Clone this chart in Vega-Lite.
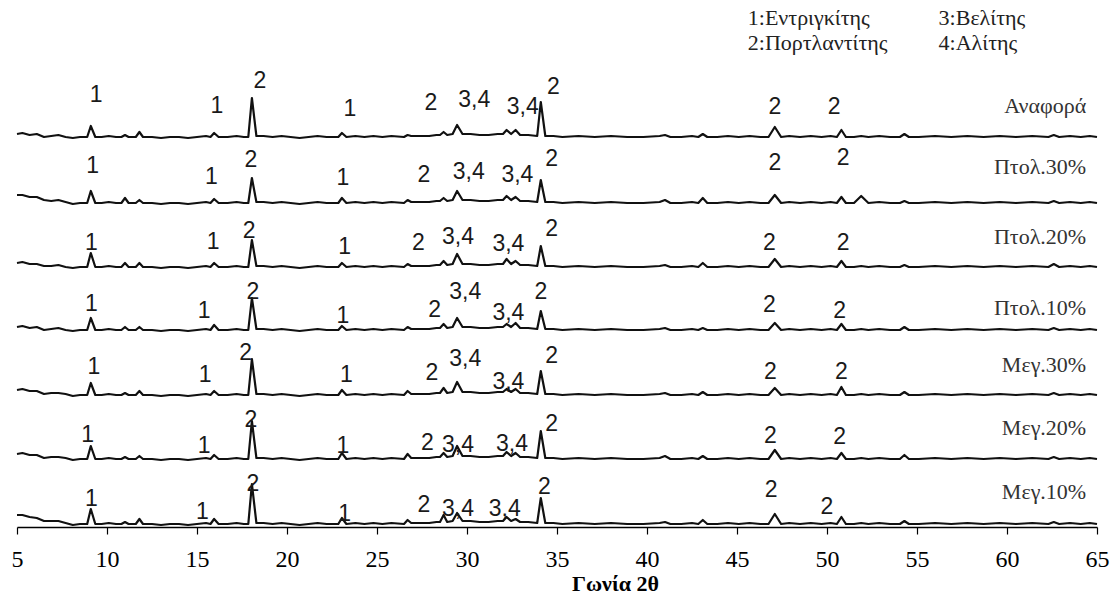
{
"$schema": "https://vega.github.io/schema/vega-lite/v6.json",
"width": 1080,
"height": 527,
"autosize": {"type": "none"},
"padding": {"left": 17, "top": 0, "right": 15, "bottom": 68},
"background": "white",
"config": {"view": {"stroke": null}},
"datasets": {
"tr": [
{"s":1,"x":5,"y":393},{"s":1,"x":5.3,"y":394},{"s":1,"x":5.7,"y":392},{"s":1,"x":6.1,"y":393},{"s":1,"x":6.5,"y":390},{"s":1,"x":6.9,"y":391},{"s":1,"x":7.3,"y":392},{"s":1,"x":7.7,"y":390},{"s":1,"x":8.1,"y":389},{"s":1,"x":8.5,"y":390},
{"s":1,"x":8.9,"y":390},{"s":1,"x":9.1,"y":401},{"s":1,"x":9.35,"y":390},{"s":1,"x":9.7,"y":390},{"s":1,"x":10.1,"y":391},{"s":1,"x":10.5,"y":390},{"s":1,"x":10.8,"y":390},{"s":1,"x":11,"y":392},{"s":1,"x":11.2,"y":390},{"s":1,"x":11.6,"y":390},
{"s":1,"x":11.8,"y":395},{"s":1,"x":12,"y":390},{"s":1,"x":12.5,"y":390},{"s":1,"x":13,"y":389},{"s":1,"x":13.5,"y":390},{"s":1,"x":14,"y":390},{"s":1,"x":14.5,"y":389},{"s":1,"x":15,"y":390},{"s":1,"x":15.5,"y":391},{"s":1,"x":15.75,"y":390},
{"s":1,"x":15.95,"y":394},{"s":1,"x":16.2,"y":390},{"s":1,"x":16.7,"y":390},{"s":1,"x":17.2,"y":391},{"s":1,"x":17.6,"y":390},{"s":1,"x":17.85,"y":390},{"s":1,"x":18.05,"y":429},{"s":1,"x":18.3,"y":391},{"s":1,"x":18.7,"y":391},{"s":1,"x":19.2,"y":390},
{"s":1,"x":19.7,"y":391},{"s":1,"x":20.2,"y":390},{"s":1,"x":20.7,"y":389},{"s":1,"x":21.2,"y":390},{"s":1,"x":21.7,"y":391},{"s":1,"x":22.2,"y":390},{"s":1,"x":22.85,"y":390},{"s":1,"x":23.05,"y":394},{"s":1,"x":23.3,"y":390},{"s":1,"x":23.8,"y":391},
{"s":1,"x":24.3,"y":390},{"s":1,"x":24.8,"y":391},{"s":1,"x":25.3,"y":390},{"s":1,"x":25.8,"y":391},{"s":1,"x":26.5,"y":390},{"s":1,"x":26.7,"y":392},{"s":1,"x":26.9,"y":391},{"s":1,"x":27.4,"y":391},{"s":1,"x":27.9,"y":391},{"s":1,"x":28.3,"y":392},
{"s":1,"x":28.5,"y":392},{"s":1,"x":28.7,"y":395},{"s":1,"x":28.9,"y":392},{"s":1,"x":29.2,"y":393},{"s":1,"x":29.45,"y":402},{"s":1,"x":29.75,"y":393},{"s":1,"x":30.2,"y":393},{"s":1,"x":30.7,"y":392},{"s":1,"x":31.2,"y":392},{"s":1,"x":31.7,"y":393},
{"s":1,"x":32,"y":393},{"s":1,"x":32.2,"y":397},{"s":1,"x":32.45,"y":393},{"s":1,"x":32.7,"y":397},{"s":1,"x":32.95,"y":392},{"s":1,"x":33.4,"y":392},{"s":1,"x":33.9,"y":391},{"s":1,"x":34.1,"y":425},{"s":1,"x":34.35,"y":391},{"s":1,"x":34.8,"y":391},
{"s":1,"x":35.3,"y":390},{"s":1,"x":36.2,"y":391},{"s":1,"x":37.1,"y":390},{"s":1,"x":38,"y":391},{"s":1,"x":38.9,"y":390},{"s":1,"x":39.8,"y":390},{"s":1,"x":40.7,"y":391},{"s":1,"x":41,"y":392},{"s":1,"x":41.3,"y":390},{"s":1,"x":41.9,"y":390},
{"s":1,"x":42.5,"y":391},{"s":1,"x":42.85,"y":390},{"s":1,"x":43.1,"y":393},{"s":1,"x":43.35,"y":390},{"s":1,"x":43.9,"y":390},{"s":1,"x":44.5,"y":391},{"s":1,"x":45.1,"y":390},{"s":1,"x":45.7,"y":391},{"s":1,"x":46.3,"y":390},{"s":1,"x":46.75,"y":390},
{"s":1,"x":47.1,"y":400},{"s":1,"x":47.45,"y":390},{"s":1,"x":47.9,"y":391},{"s":1,"x":48.5,"y":390},{"s":1,"x":49.1,"y":391},{"s":1,"x":49.7,"y":390},{"s":1,"x":50.2,"y":391},{"s":1,"x":50.55,"y":390},{"s":1,"x":50.8,"y":397},{"s":1,"x":51.05,"y":390},
{"s":1,"x":51.5,"y":390},{"s":1,"x":51.9,"y":391},{"s":1,"x":52.3,"y":390},{"s":1,"x":52.9,"y":391},{"s":1,"x":53.5,"y":390},{"s":1,"x":54.05,"y":390},{"s":1,"x":54.3,"y":393},{"s":1,"x":54.55,"y":390},{"s":1,"x":55.1,"y":390},{"s":1,"x":56,"y":391},
{"s":1,"x":56.9,"y":390},{"s":1,"x":57.8,"y":391},{"s":1,"x":58.7,"y":390},{"s":1,"x":59.6,"y":391},{"s":1,"x":60.5,"y":390},{"s":1,"x":61.4,"y":391},{"s":1,"x":62.3,"y":390},{"s":1,"x":62.6,"y":392},{"s":1,"x":62.9,"y":390},{"s":1,"x":63.5,"y":391},{"s":1,"x":64.1,"y":390},{"s":1,"x":64.6,"y":391},{"s":1,"x":65,"y":390},

{"s":2,"x":5,"y":332},{"s":2,"x":5.3,"y":332},{"s":2,"x":5.7,"y":330},{"s":2,"x":6.1,"y":330},{"s":2,"x":6.5,"y":327},{"s":2,"x":6.9,"y":326},{"s":2,"x":7.3,"y":327},{"s":2,"x":7.7,"y":325},{"s":2,"x":8.1,"y":323},{"s":2,"x":8.5,"y":324},
{"s":2,"x":8.9,"y":324},{"s":2,"x":9.1,"y":336},{"s":2,"x":9.35,"y":324},{"s":2,"x":9.7,"y":324},{"s":2,"x":10.1,"y":325},{"s":2,"x":10.5,"y":324},{"s":2,"x":10.8,"y":324},{"s":2,"x":11,"y":329},{"s":2,"x":11.2,"y":324},{"s":2,"x":11.6,"y":324},
{"s":2,"x":11.8,"y":327},{"s":2,"x":12,"y":324},{"s":2,"x":12.5,"y":324},{"s":2,"x":13,"y":323},{"s":2,"x":13.5,"y":324},{"s":2,"x":14,"y":324},{"s":2,"x":14.5,"y":323},{"s":2,"x":15,"y":324},{"s":2,"x":15.5,"y":325},{"s":2,"x":15.75,"y":324},
{"s":2,"x":15.95,"y":328},{"s":2,"x":16.2,"y":324},{"s":2,"x":16.7,"y":324},{"s":2,"x":17.2,"y":325},{"s":2,"x":17.6,"y":324},{"s":2,"x":17.85,"y":324},{"s":2,"x":18.05,"y":349},{"s":2,"x":18.3,"y":325},{"s":2,"x":18.7,"y":325},{"s":2,"x":19.2,"y":324},
{"s":2,"x":19.7,"y":325},{"s":2,"x":20.2,"y":324},{"s":2,"x":20.7,"y":323},{"s":2,"x":21.2,"y":324},{"s":2,"x":21.7,"y":325},{"s":2,"x":22.2,"y":324},{"s":2,"x":22.85,"y":324},{"s":2,"x":23.05,"y":329},{"s":2,"x":23.3,"y":324},{"s":2,"x":23.8,"y":325},
{"s":2,"x":24.3,"y":324},{"s":2,"x":24.8,"y":325},{"s":2,"x":25.3,"y":324},{"s":2,"x":25.8,"y":325},{"s":2,"x":26.5,"y":324},{"s":2,"x":26.7,"y":327},{"s":2,"x":26.9,"y":325},{"s":2,"x":27.4,"y":325},{"s":2,"x":27.9,"y":325},{"s":2,"x":28.3,"y":326},
{"s":2,"x":28.5,"y":326},{"s":2,"x":28.7,"y":329},{"s":2,"x":28.9,"y":326},{"s":2,"x":29.2,"y":327},{"s":2,"x":29.45,"y":336},{"s":2,"x":29.75,"y":327},{"s":2,"x":30.2,"y":327},{"s":2,"x":30.7,"y":326},{"s":2,"x":31.2,"y":326},{"s":2,"x":31.7,"y":327},
{"s":2,"x":32,"y":327},{"s":2,"x":32.2,"y":331},{"s":2,"x":32.45,"y":327},{"s":2,"x":32.7,"y":330},{"s":2,"x":32.95,"y":326},{"s":2,"x":33.4,"y":326},{"s":2,"x":33.9,"y":325},{"s":2,"x":34.1,"y":347},{"s":2,"x":34.35,"y":325},{"s":2,"x":34.8,"y":325},
{"s":2,"x":35.3,"y":324},{"s":2,"x":36.2,"y":325},{"s":2,"x":37.1,"y":324},{"s":2,"x":38,"y":325},{"s":2,"x":38.9,"y":324},{"s":2,"x":39.8,"y":324},{"s":2,"x":40.7,"y":325},{"s":2,"x":41,"y":327},{"s":2,"x":41.3,"y":324},{"s":2,"x":41.9,"y":324},
{"s":2,"x":42.5,"y":325},{"s":2,"x":42.85,"y":324},{"s":2,"x":43.1,"y":329},{"s":2,"x":43.35,"y":324},{"s":2,"x":43.9,"y":324},{"s":2,"x":44.5,"y":325},{"s":2,"x":45.1,"y":324},{"s":2,"x":45.7,"y":325},{"s":2,"x":46.3,"y":324},{"s":2,"x":46.75,"y":324},
{"s":2,"x":47.1,"y":332},{"s":2,"x":47.45,"y":324},{"s":2,"x":47.9,"y":325},{"s":2,"x":48.5,"y":324},{"s":2,"x":49.1,"y":325},{"s":2,"x":49.7,"y":324},{"s":2,"x":50.2,"y":325},{"s":2,"x":50.55,"y":324},{"s":2,"x":50.8,"y":330},{"s":2,"x":51.05,"y":324},
{"s":2,"x":51.5,"y":324},{"s":2,"x":51.9,"y":331},{"s":2,"x":52.3,"y":324},{"s":2,"x":52.9,"y":325},{"s":2,"x":53.5,"y":324},{"s":2,"x":54.05,"y":324},{"s":2,"x":54.3,"y":326},{"s":2,"x":54.55,"y":324},{"s":2,"x":55.1,"y":324},{"s":2,"x":56,"y":325},
{"s":2,"x":56.9,"y":324},{"s":2,"x":57.8,"y":325},{"s":2,"x":58.7,"y":324},{"s":2,"x":59.6,"y":325},{"s":2,"x":60.5,"y":324},{"s":2,"x":61.4,"y":325},{"s":2,"x":62.3,"y":324},{"s":2,"x":62.6,"y":326},{"s":2,"x":62.9,"y":324},{"s":2,"x":63.5,"y":325},{"s":2,"x":64.1,"y":324},{"s":2,"x":64.6,"y":325},{"s":2,"x":65,"y":324},

{"s":3,"x":5,"y":264},{"s":3,"x":5.3,"y":265},{"s":3,"x":5.7,"y":263},{"s":3,"x":6.1,"y":263},{"s":3,"x":6.5,"y":261},{"s":3,"x":6.9,"y":261},{"s":3,"x":7.3,"y":262},{"s":3,"x":7.7,"y":260},{"s":3,"x":8.1,"y":259},{"s":3,"x":8.5,"y":260},
{"s":3,"x":8.9,"y":260},{"s":3,"x":9.1,"y":274},{"s":3,"x":9.35,"y":260},{"s":3,"x":9.7,"y":260},{"s":3,"x":10.1,"y":261},{"s":3,"x":10.5,"y":260},{"s":3,"x":10.8,"y":260},{"s":3,"x":11,"y":264},{"s":3,"x":11.2,"y":260},{"s":3,"x":11.6,"y":260},
{"s":3,"x":11.8,"y":264},{"s":3,"x":12,"y":260},{"s":3,"x":12.5,"y":260},{"s":3,"x":13,"y":259},{"s":3,"x":13.5,"y":260},{"s":3,"x":14,"y":260},{"s":3,"x":14.5,"y":259},{"s":3,"x":15,"y":260},{"s":3,"x":15.5,"y":261},{"s":3,"x":15.75,"y":260},
{"s":3,"x":15.95,"y":264},{"s":3,"x":16.2,"y":260},{"s":3,"x":16.7,"y":260},{"s":3,"x":17.2,"y":261},{"s":3,"x":17.6,"y":260},{"s":3,"x":17.85,"y":260},{"s":3,"x":18.05,"y":287},{"s":3,"x":18.3,"y":261},{"s":3,"x":18.7,"y":261},{"s":3,"x":19.2,"y":260},
{"s":3,"x":19.7,"y":261},{"s":3,"x":20.2,"y":260},{"s":3,"x":20.7,"y":259},{"s":3,"x":21.2,"y":260},{"s":3,"x":21.7,"y":261},{"s":3,"x":22.2,"y":260},{"s":3,"x":22.85,"y":260},{"s":3,"x":23.05,"y":264},{"s":3,"x":23.3,"y":260},{"s":3,"x":23.8,"y":261},
{"s":3,"x":24.3,"y":260},{"s":3,"x":24.8,"y":261},{"s":3,"x":25.3,"y":260},{"s":3,"x":25.8,"y":261},{"s":3,"x":26.5,"y":260},{"s":3,"x":26.7,"y":263},{"s":3,"x":26.9,"y":261},{"s":3,"x":27.4,"y":261},{"s":3,"x":27.9,"y":261},{"s":3,"x":28.3,"y":262},
{"s":3,"x":28.5,"y":262},{"s":3,"x":28.7,"y":266},{"s":3,"x":28.9,"y":262},{"s":3,"x":29.2,"y":263},{"s":3,"x":29.45,"y":273},{"s":3,"x":29.75,"y":263},{"s":3,"x":30.2,"y":263},{"s":3,"x":30.7,"y":262},{"s":3,"x":31.2,"y":262},{"s":3,"x":31.7,"y":263},
{"s":3,"x":32,"y":263},{"s":3,"x":32.2,"y":268},{"s":3,"x":32.45,"y":263},{"s":3,"x":32.7,"y":266},{"s":3,"x":32.95,"y":262},{"s":3,"x":33.4,"y":262},{"s":3,"x":33.9,"y":261},{"s":3,"x":34.1,"y":281},{"s":3,"x":34.35,"y":261},{"s":3,"x":34.8,"y":261},
{"s":3,"x":35.3,"y":260},{"s":3,"x":36.2,"y":261},{"s":3,"x":37.1,"y":260},{"s":3,"x":38,"y":261},{"s":3,"x":38.9,"y":260},{"s":3,"x":39.8,"y":260},{"s":3,"x":40.7,"y":261},{"s":3,"x":41,"y":262},{"s":3,"x":41.3,"y":260},{"s":3,"x":41.9,"y":260},
{"s":3,"x":42.5,"y":261},{"s":3,"x":42.85,"y":260},{"s":3,"x":43.1,"y":264},{"s":3,"x":43.35,"y":260},{"s":3,"x":43.9,"y":260},{"s":3,"x":44.5,"y":261},{"s":3,"x":45.1,"y":260},{"s":3,"x":45.7,"y":261},{"s":3,"x":46.3,"y":260},{"s":3,"x":46.75,"y":260},
{"s":3,"x":47.1,"y":268},{"s":3,"x":47.45,"y":260},{"s":3,"x":47.9,"y":261},{"s":3,"x":48.5,"y":260},{"s":3,"x":49.1,"y":261},{"s":3,"x":49.7,"y":260},{"s":3,"x":50.2,"y":261},{"s":3,"x":50.55,"y":260},{"s":3,"x":50.8,"y":266},{"s":3,"x":51.05,"y":260},
{"s":3,"x":51.5,"y":260},{"s":3,"x":51.9,"y":261},{"s":3,"x":52.3,"y":260},{"s":3,"x":52.9,"y":261},{"s":3,"x":53.5,"y":260},{"s":3,"x":54.05,"y":260},{"s":3,"x":54.3,"y":262},{"s":3,"x":54.55,"y":260},{"s":3,"x":55.1,"y":260},{"s":3,"x":56,"y":261},
{"s":3,"x":56.9,"y":260},{"s":3,"x":57.8,"y":261},{"s":3,"x":58.7,"y":260},{"s":3,"x":59.6,"y":261},{"s":3,"x":60.5,"y":260},{"s":3,"x":61.4,"y":261},{"s":3,"x":62.3,"y":260},{"s":3,"x":62.6,"y":263},{"s":3,"x":62.9,"y":260},{"s":3,"x":63.5,"y":261},{"s":3,"x":64.1,"y":260},{"s":3,"x":64.6,"y":261},{"s":3,"x":65,"y":260},

{"s":4,"x":5,"y":200},{"s":4,"x":5.3,"y":201},{"s":4,"x":5.7,"y":199},{"s":4,"x":6.1,"y":200},{"s":4,"x":6.5,"y":197},{"s":4,"x":6.9,"y":198},{"s":4,"x":7.3,"y":199},{"s":4,"x":7.7,"y":197},{"s":4,"x":8.1,"y":196},{"s":4,"x":8.5,"y":197},
{"s":4,"x":8.9,"y":197},{"s":4,"x":9.1,"y":209},{"s":4,"x":9.35,"y":197},{"s":4,"x":9.7,"y":197},{"s":4,"x":10.1,"y":198},{"s":4,"x":10.5,"y":197},{"s":4,"x":10.8,"y":197},{"s":4,"x":11,"y":200},{"s":4,"x":11.2,"y":197},{"s":4,"x":11.6,"y":197},
{"s":4,"x":11.8,"y":200},{"s":4,"x":12,"y":197},{"s":4,"x":12.5,"y":197},{"s":4,"x":13,"y":196},{"s":4,"x":13.5,"y":197},{"s":4,"x":14,"y":197},{"s":4,"x":14.5,"y":196},{"s":4,"x":15,"y":197},{"s":4,"x":15.5,"y":198},{"s":4,"x":15.75,"y":197},
{"s":4,"x":15.95,"y":202},{"s":4,"x":16.2,"y":197},{"s":4,"x":16.7,"y":197},{"s":4,"x":17.2,"y":198},{"s":4,"x":17.6,"y":197},{"s":4,"x":17.85,"y":197},{"s":4,"x":18.05,"y":229},{"s":4,"x":18.3,"y":198},{"s":4,"x":18.7,"y":198},{"s":4,"x":19.2,"y":197},
{"s":4,"x":19.7,"y":198},{"s":4,"x":20.2,"y":197},{"s":4,"x":20.7,"y":196},{"s":4,"x":21.2,"y":197},{"s":4,"x":21.7,"y":198},{"s":4,"x":22.2,"y":197},{"s":4,"x":22.85,"y":197},{"s":4,"x":23.05,"y":201},{"s":4,"x":23.3,"y":197},{"s":4,"x":23.8,"y":198},
{"s":4,"x":24.3,"y":197},{"s":4,"x":24.8,"y":198},{"s":4,"x":25.3,"y":197},{"s":4,"x":25.8,"y":198},{"s":4,"x":26.5,"y":197},{"s":4,"x":26.7,"y":200},{"s":4,"x":26.9,"y":198},{"s":4,"x":27.4,"y":198},{"s":4,"x":27.9,"y":198},{"s":4,"x":28.3,"y":199},
{"s":4,"x":28.5,"y":199},{"s":4,"x":28.7,"y":203},{"s":4,"x":28.9,"y":199},{"s":4,"x":29.2,"y":200},{"s":4,"x":29.45,"y":209},{"s":4,"x":29.75,"y":200},{"s":4,"x":30.2,"y":200},{"s":4,"x":30.7,"y":199},{"s":4,"x":31.2,"y":199},{"s":4,"x":31.7,"y":200},
{"s":4,"x":32,"y":200},{"s":4,"x":32.2,"y":203},{"s":4,"x":32.45,"y":200},{"s":4,"x":32.7,"y":204},{"s":4,"x":32.95,"y":199},{"s":4,"x":33.4,"y":199},{"s":4,"x":33.9,"y":198},{"s":4,"x":34.1,"y":216},{"s":4,"x":34.35,"y":198},{"s":4,"x":34.8,"y":198},
{"s":4,"x":35.3,"y":197},{"s":4,"x":36.2,"y":198},{"s":4,"x":37.1,"y":197},{"s":4,"x":38,"y":198},{"s":4,"x":38.9,"y":197},{"s":4,"x":39.8,"y":197},{"s":4,"x":40.7,"y":198},{"s":4,"x":41,"y":199},{"s":4,"x":41.3,"y":197},{"s":4,"x":41.9,"y":197},
{"s":4,"x":42.5,"y":198},{"s":4,"x":42.85,"y":197},{"s":4,"x":43.1,"y":199},{"s":4,"x":43.35,"y":197},{"s":4,"x":43.9,"y":197},{"s":4,"x":44.5,"y":198},{"s":4,"x":45.1,"y":197},{"s":4,"x":45.7,"y":198},{"s":4,"x":46.3,"y":197},{"s":4,"x":46.75,"y":197},
{"s":4,"x":47.1,"y":204},{"s":4,"x":47.45,"y":197},{"s":4,"x":47.9,"y":198},{"s":4,"x":48.5,"y":197},{"s":4,"x":49.1,"y":198},{"s":4,"x":49.7,"y":197},{"s":4,"x":50.2,"y":198},{"s":4,"x":50.55,"y":197},{"s":4,"x":50.8,"y":203},{"s":4,"x":51.05,"y":197},
{"s":4,"x":51.5,"y":197},{"s":4,"x":51.9,"y":198},{"s":4,"x":52.3,"y":197},{"s":4,"x":52.9,"y":198},{"s":4,"x":53.5,"y":197},{"s":4,"x":54.05,"y":197},{"s":4,"x":54.3,"y":200},{"s":4,"x":54.55,"y":197},{"s":4,"x":55.1,"y":197},{"s":4,"x":56,"y":198},
{"s":4,"x":56.9,"y":197},{"s":4,"x":57.8,"y":198},{"s":4,"x":58.7,"y":197},{"s":4,"x":59.6,"y":198},{"s":4,"x":60.5,"y":197},{"s":4,"x":61.4,"y":198},{"s":4,"x":62.3,"y":197},{"s":4,"x":62.6,"y":199},{"s":4,"x":62.9,"y":197},{"s":4,"x":63.5,"y":198},{"s":4,"x":64.1,"y":197},{"s":4,"x":64.6,"y":198},{"s":4,"x":65,"y":197},

{"s":5,"x":5,"y":137},{"s":5,"x":5.3,"y":138},{"s":5,"x":5.7,"y":136},{"s":5,"x":6.1,"y":136},{"s":5,"x":6.5,"y":133},{"s":5,"x":6.9,"y":134},{"s":5,"x":7.3,"y":134},{"s":5,"x":7.7,"y":133},{"s":5,"x":8.1,"y":131},{"s":5,"x":8.5,"y":132},
{"s":5,"x":8.9,"y":132},{"s":5,"x":9.1,"y":144},{"s":5,"x":9.35,"y":132},{"s":5,"x":9.7,"y":132},{"s":5,"x":10.1,"y":133},{"s":5,"x":10.5,"y":132},{"s":5,"x":10.8,"y":132},{"s":5,"x":11,"y":134},{"s":5,"x":11.2,"y":132},{"s":5,"x":11.6,"y":132},
{"s":5,"x":11.8,"y":136},{"s":5,"x":12,"y":132},{"s":5,"x":12.5,"y":132},{"s":5,"x":13,"y":131},{"s":5,"x":13.5,"y":132},{"s":5,"x":14,"y":132},{"s":5,"x":14.5,"y":131},{"s":5,"x":15,"y":132},{"s":5,"x":15.5,"y":133},{"s":5,"x":15.75,"y":132},
{"s":5,"x":15.95,"y":136},{"s":5,"x":16.2,"y":132},{"s":5,"x":16.7,"y":132},{"s":5,"x":17.2,"y":133},{"s":5,"x":17.6,"y":132},{"s":5,"x":17.85,"y":132},{"s":5,"x":18.05,"y":168},{"s":5,"x":18.3,"y":133},{"s":5,"x":18.7,"y":133},{"s":5,"x":19.2,"y":132},
{"s":5,"x":19.7,"y":133},{"s":5,"x":20.2,"y":132},{"s":5,"x":20.7,"y":131},{"s":5,"x":21.2,"y":132},{"s":5,"x":21.7,"y":133},{"s":5,"x":22.2,"y":132},{"s":5,"x":22.85,"y":132},{"s":5,"x":23.05,"y":137},{"s":5,"x":23.3,"y":132},{"s":5,"x":23.8,"y":133},
{"s":5,"x":24.3,"y":132},{"s":5,"x":24.8,"y":133},{"s":5,"x":25.3,"y":132},{"s":5,"x":25.8,"y":133},{"s":5,"x":26.5,"y":132},{"s":5,"x":26.7,"y":136},{"s":5,"x":26.9,"y":133},{"s":5,"x":27.4,"y":133},{"s":5,"x":27.9,"y":133},{"s":5,"x":28.3,"y":134},
{"s":5,"x":28.5,"y":134},{"s":5,"x":28.7,"y":139},{"s":5,"x":28.9,"y":134},{"s":5,"x":29.2,"y":135},{"s":5,"x":29.45,"y":145},{"s":5,"x":29.75,"y":135},{"s":5,"x":30.2,"y":135},{"s":5,"x":30.7,"y":134},{"s":5,"x":31.2,"y":134},{"s":5,"x":31.7,"y":135},
{"s":5,"x":32,"y":135},{"s":5,"x":32.2,"y":138},{"s":5,"x":32.45,"y":135},{"s":5,"x":32.7,"y":138},{"s":5,"x":32.95,"y":134},{"s":5,"x":33.4,"y":134},{"s":5,"x":33.9,"y":133},{"s":5,"x":34.1,"y":156},{"s":5,"x":34.35,"y":133},{"s":5,"x":34.8,"y":133},
{"s":5,"x":35.3,"y":132},{"s":5,"x":36.2,"y":133},{"s":5,"x":37.1,"y":132},{"s":5,"x":38,"y":133},{"s":5,"x":38.9,"y":132},{"s":5,"x":39.8,"y":132},{"s":5,"x":40.7,"y":133},{"s":5,"x":41,"y":134},{"s":5,"x":41.3,"y":132},{"s":5,"x":41.9,"y":132},
{"s":5,"x":42.5,"y":133},{"s":5,"x":42.85,"y":132},{"s":5,"x":43.1,"y":135},{"s":5,"x":43.35,"y":132},{"s":5,"x":43.9,"y":132},{"s":5,"x":44.5,"y":133},{"s":5,"x":45.1,"y":132},{"s":5,"x":45.7,"y":133},{"s":5,"x":46.3,"y":132},{"s":5,"x":46.75,"y":132},
{"s":5,"x":47.1,"y":139},{"s":5,"x":47.45,"y":132},{"s":5,"x":47.9,"y":133},{"s":5,"x":48.5,"y":132},{"s":5,"x":49.1,"y":133},{"s":5,"x":49.7,"y":132},{"s":5,"x":50.2,"y":133},{"s":5,"x":50.55,"y":132},{"s":5,"x":50.8,"y":140},{"s":5,"x":51.05,"y":132},
{"s":5,"x":51.5,"y":132},{"s":5,"x":51.9,"y":133},{"s":5,"x":52.3,"y":132},{"s":5,"x":52.9,"y":133},{"s":5,"x":53.5,"y":132},{"s":5,"x":54.05,"y":132},{"s":5,"x":54.3,"y":135},{"s":5,"x":54.55,"y":132},{"s":5,"x":55.1,"y":132},{"s":5,"x":56,"y":133},
{"s":5,"x":56.9,"y":132},{"s":5,"x":57.8,"y":133},{"s":5,"x":58.7,"y":132},{"s":5,"x":59.6,"y":133},{"s":5,"x":60.5,"y":132},{"s":5,"x":61.4,"y":133},{"s":5,"x":62.3,"y":132},{"s":5,"x":62.6,"y":134},{"s":5,"x":62.9,"y":132},{"s":5,"x":63.5,"y":133},{"s":5,"x":64.1,"y":132},{"s":5,"x":64.6,"y":133},{"s":5,"x":65,"y":132},

{"s":6,"x":5,"y":73},{"s":6,"x":5.3,"y":74},{"s":6,"x":5.7,"y":72},{"s":6,"x":6.1,"y":72},{"s":6,"x":6.5,"y":69},{"s":6,"x":6.9,"y":70},{"s":6,"x":7.3,"y":70},{"s":6,"x":7.7,"y":69},{"s":6,"x":8.1,"y":67},{"s":6,"x":8.5,"y":68},
{"s":6,"x":8.9,"y":68},{"s":6,"x":9.1,"y":81},{"s":6,"x":9.35,"y":68},{"s":6,"x":9.7,"y":68},{"s":6,"x":10.1,"y":69},{"s":6,"x":10.5,"y":68},{"s":6,"x":10.8,"y":68},{"s":6,"x":11,"y":70},{"s":6,"x":11.2,"y":68},{"s":6,"x":11.6,"y":68},
{"s":6,"x":11.8,"y":71},{"s":6,"x":12,"y":68},{"s":6,"x":12.5,"y":68},{"s":6,"x":13,"y":67},{"s":6,"x":13.5,"y":68},{"s":6,"x":14,"y":68},{"s":6,"x":14.5,"y":67},{"s":6,"x":15,"y":68},{"s":6,"x":15.5,"y":69},{"s":6,"x":15.75,"y":68},
{"s":6,"x":15.95,"y":72},{"s":6,"x":16.2,"y":68},{"s":6,"x":16.7,"y":68},{"s":6,"x":17.2,"y":69},{"s":6,"x":17.6,"y":68},{"s":6,"x":17.85,"y":68},{"s":6,"x":18.05,"y":106},{"s":6,"x":18.3,"y":69},{"s":6,"x":18.7,"y":69},{"s":6,"x":19.2,"y":68},
{"s":6,"x":19.7,"y":69},{"s":6,"x":20.2,"y":68},{"s":6,"x":20.7,"y":67},{"s":6,"x":21.2,"y":68},{"s":6,"x":21.7,"y":69},{"s":6,"x":22.2,"y":68},{"s":6,"x":22.85,"y":68},{"s":6,"x":23.05,"y":74},{"s":6,"x":23.3,"y":68},{"s":6,"x":23.8,"y":69},
{"s":6,"x":24.3,"y":68},{"s":6,"x":24.8,"y":69},{"s":6,"x":25.3,"y":68},{"s":6,"x":25.8,"y":69},{"s":6,"x":26.5,"y":68},{"s":6,"x":26.7,"y":73},{"s":6,"x":26.9,"y":69},{"s":6,"x":27.4,"y":69},{"s":6,"x":27.9,"y":69},{"s":6,"x":28.3,"y":70},
{"s":6,"x":28.5,"y":70},{"s":6,"x":28.7,"y":74},{"s":6,"x":28.9,"y":70},{"s":6,"x":29.2,"y":71},{"s":6,"x":29.45,"y":81},{"s":6,"x":29.75,"y":71},{"s":6,"x":30.2,"y":71},{"s":6,"x":30.7,"y":70},{"s":6,"x":31.2,"y":70},{"s":6,"x":31.7,"y":71},
{"s":6,"x":32,"y":71},{"s":6,"x":32.2,"y":75},{"s":6,"x":32.45,"y":71},{"s":6,"x":32.7,"y":74},{"s":6,"x":32.95,"y":70},{"s":6,"x":33.4,"y":70},{"s":6,"x":33.9,"y":69},{"s":6,"x":34.1,"y":96},{"s":6,"x":34.35,"y":69},{"s":6,"x":34.8,"y":69},
{"s":6,"x":35.3,"y":68},{"s":6,"x":36.2,"y":69},{"s":6,"x":37.1,"y":68},{"s":6,"x":38,"y":69},{"s":6,"x":38.9,"y":68},{"s":6,"x":39.8,"y":68},{"s":6,"x":40.7,"y":69},{"s":6,"x":41,"y":71},{"s":6,"x":41.3,"y":68},{"s":6,"x":41.9,"y":68},
{"s":6,"x":42.5,"y":69},{"s":6,"x":42.85,"y":68},{"s":6,"x":43.1,"y":71},{"s":6,"x":43.35,"y":68},{"s":6,"x":43.9,"y":68},{"s":6,"x":44.5,"y":69},{"s":6,"x":45.1,"y":68},{"s":6,"x":45.7,"y":69},{"s":6,"x":46.3,"y":68},{"s":6,"x":46.75,"y":68},
{"s":6,"x":47.1,"y":77},{"s":6,"x":47.45,"y":68},{"s":6,"x":47.9,"y":69},{"s":6,"x":48.5,"y":68},{"s":6,"x":49.1,"y":69},{"s":6,"x":49.7,"y":68},{"s":6,"x":50.2,"y":69},{"s":6,"x":50.55,"y":68},{"s":6,"x":50.8,"y":74},{"s":6,"x":51.05,"y":68},
{"s":6,"x":51.5,"y":68},{"s":6,"x":51.9,"y":69},{"s":6,"x":52.3,"y":68},{"s":6,"x":52.9,"y":69},{"s":6,"x":53.5,"y":68},{"s":6,"x":54.05,"y":68},{"s":6,"x":54.3,"y":72},{"s":6,"x":54.55,"y":68},{"s":6,"x":55.1,"y":68},{"s":6,"x":56,"y":69},
{"s":6,"x":56.9,"y":68},{"s":6,"x":57.8,"y":69},{"s":6,"x":58.7,"y":68},{"s":6,"x":59.6,"y":69},{"s":6,"x":60.5,"y":68},{"s":6,"x":61.4,"y":69},{"s":6,"x":62.3,"y":68},{"s":6,"x":62.6,"y":70},{"s":6,"x":62.9,"y":68},{"s":6,"x":63.5,"y":69},{"s":6,"x":64.1,"y":68},{"s":6,"x":64.6,"y":69},{"s":6,"x":65,"y":68},

{"s":7,"x":5,"y":12},{"s":7,"x":5.3,"y":12},{"s":7,"x":5.7,"y":10},{"s":7,"x":6.1,"y":9},{"s":7,"x":6.5,"y":6},{"s":7,"x":6.9,"y":6},{"s":7,"x":7.3,"y":6},{"s":7,"x":7.7,"y":4},{"s":7,"x":8.1,"y":2},{"s":7,"x":8.5,"y":3},
{"s":7,"x":8.9,"y":3},{"s":7,"x":9.1,"y":18},{"s":7,"x":9.35,"y":3},{"s":7,"x":9.7,"y":3},{"s":7,"x":10.1,"y":4},{"s":7,"x":10.5,"y":3},{"s":7,"x":10.8,"y":3},{"s":7,"x":11,"y":5},{"s":7,"x":11.2,"y":3},{"s":7,"x":11.6,"y":3},
{"s":7,"x":11.8,"y":8},{"s":7,"x":12,"y":3},{"s":7,"x":12.5,"y":3},{"s":7,"x":13,"y":2},{"s":7,"x":13.5,"y":3},{"s":7,"x":14,"y":3},{"s":7,"x":14.5,"y":2},{"s":7,"x":15,"y":3},{"s":7,"x":15.5,"y":4},{"s":7,"x":15.75,"y":3},
{"s":7,"x":15.95,"y":8},{"s":7,"x":16.2,"y":3},{"s":7,"x":16.7,"y":3},{"s":7,"x":17.2,"y":4},{"s":7,"x":17.6,"y":3},{"s":7,"x":17.85,"y":3},{"s":7,"x":18.05,"y":43},{"s":7,"x":18.3,"y":4},{"s":7,"x":18.7,"y":4},{"s":7,"x":19.2,"y":3},
{"s":7,"x":19.7,"y":4},{"s":7,"x":20.2,"y":3},{"s":7,"x":20.7,"y":2},{"s":7,"x":21.2,"y":3},{"s":7,"x":21.7,"y":4},{"s":7,"x":22.2,"y":3},{"s":7,"x":22.85,"y":3},{"s":7,"x":23.05,"y":9},{"s":7,"x":23.3,"y":3},{"s":7,"x":23.8,"y":4},
{"s":7,"x":24.3,"y":3},{"s":7,"x":24.8,"y":4},{"s":7,"x":25.3,"y":3},{"s":7,"x":25.8,"y":4},{"s":7,"x":26.5,"y":3},{"s":7,"x":26.7,"y":7},{"s":7,"x":26.9,"y":4},{"s":7,"x":27.4,"y":4},{"s":7,"x":27.9,"y":4},{"s":7,"x":28.3,"y":5},
{"s":7,"x":28.5,"y":5},{"s":7,"x":28.7,"y":12},{"s":7,"x":28.9,"y":5},{"s":7,"x":29.2,"y":6},{"s":7,"x":29.45,"y":14},{"s":7,"x":29.75,"y":6},{"s":7,"x":30.2,"y":6},{"s":7,"x":30.7,"y":5},{"s":7,"x":31.2,"y":5},{"s":7,"x":31.7,"y":6},
{"s":7,"x":32,"y":6},{"s":7,"x":32.2,"y":10},{"s":7,"x":32.45,"y":6},{"s":7,"x":32.7,"y":8},{"s":7,"x":32.95,"y":5},{"s":7,"x":33.4,"y":5},{"s":7,"x":33.9,"y":4},{"s":7,"x":34.1,"y":29},{"s":7,"x":34.35,"y":4},{"s":7,"x":34.8,"y":4},
{"s":7,"x":35.3,"y":3},{"s":7,"x":36.2,"y":4},{"s":7,"x":37.1,"y":3},{"s":7,"x":38,"y":4},{"s":7,"x":38.9,"y":3},{"s":7,"x":39.8,"y":3},{"s":7,"x":40.7,"y":4},{"s":7,"x":41,"y":5},{"s":7,"x":41.3,"y":3},{"s":7,"x":41.9,"y":3},
{"s":7,"x":42.5,"y":4},{"s":7,"x":42.85,"y":3},{"s":7,"x":43.1,"y":7},{"s":7,"x":43.35,"y":3},{"s":7,"x":43.9,"y":3},{"s":7,"x":44.5,"y":4},{"s":7,"x":45.1,"y":3},{"s":7,"x":45.7,"y":4},{"s":7,"x":46.3,"y":3},{"s":7,"x":46.75,"y":3},
{"s":7,"x":47.1,"y":13},{"s":7,"x":47.45,"y":3},{"s":7,"x":47.9,"y":4},{"s":7,"x":48.5,"y":3},{"s":7,"x":49.1,"y":4},{"s":7,"x":49.7,"y":3},{"s":7,"x":50.2,"y":4},{"s":7,"x":50.55,"y":3},{"s":7,"x":50.8,"y":10},{"s":7,"x":51.05,"y":3},
{"s":7,"x":51.5,"y":3},{"s":7,"x":51.9,"y":4},{"s":7,"x":52.3,"y":3},{"s":7,"x":52.9,"y":4},{"s":7,"x":53.5,"y":3},{"s":7,"x":54.05,"y":3},{"s":7,"x":54.3,"y":6},{"s":7,"x":54.55,"y":3},{"s":7,"x":55.1,"y":3},{"s":7,"x":56,"y":4},
{"s":7,"x":56.9,"y":3},{"s":7,"x":57.8,"y":4},{"s":7,"x":58.7,"y":3},{"s":7,"x":59.6,"y":4},{"s":7,"x":60.5,"y":3},{"s":7,"x":61.4,"y":4},{"s":7,"x":62.3,"y":3},{"s":7,"x":62.6,"y":5},{"s":7,"x":62.9,"y":3},{"s":7,"x":63.5,"y":4},{"s":7,"x":64.1,"y":3},{"s":7,"x":64.6,"y":4},{"s":7,"x":65,"y":3}
],
"pk": [
{"x":9.4,"y":432,"t":"1"},{"x":16.1,"y":421,"t":"1"},{"x":18.5,"y":446,"t":"2"},{"x":23.5,"y":418,"t":"1"},{"x":28.0,"y":424,"t":"2"},{"x":30.4,"y":427,"t":"3,4"},{"x":33.1,"y":420,"t":"3,4"},{"x":34.8,"y":440,"t":"2"},{"x":47.1,"y":420,"t":"2"},{"x":50.4,"y":420,"t":"2"},
{"x":9.2,"y":361,"t":"1"},{"x":15.8,"y":350,"t":"1"},{"x":18.0,"y":367,"t":"2"},{"x":23.1,"y":349,"t":"1"},{"x":27.6,"y":352,"t":"2"},{"x":30.1,"y":355,"t":"3,4"},{"x":32.8,"y":352,"t":"3,4"},{"x":34.7,"y":368,"t":"2"},{"x":47.1,"y":364,"t":"2"},{"x":50.9,"y":369,"t":"2"},
{"x":9.13,"y":284,"t":"1"},{"x":15.9,"y":285,"t":"1"},{"x":17.9,"y":296,"t":"2"},{"x":23.2,"y":280,"t":"1"},{"x":27.3,"y":284,"t":"2"},{"x":29.5,"y":290,"t":"3,4"},{"x":32.3,"y":283,"t":"3,4"},{"x":34.7,"y":298,"t":"2"},{"x":46.8,"y":284,"t":"2"},{"x":50.9,"y":284,"t":"2"},
{"x":9.13,"y":223,"t":"1"},{"x":15.4,"y":216,"t":"1"},{"x":18.1,"y":235,"t":"2"},{"x":23.1,"y":211,"t":"1"},{"x":28.2,"y":217,"t":"2"},{"x":29.9,"y":235,"t":"3,4"},{"x":32.3,"y":214,"t":"3,4"},{"x":34.1,"y":235,"t":"2"},{"x":46.8,"y":222,"t":"2"},{"x":50.7,"y":216,"t":"2"},
{"x":9.27,"y":160,"t":"1"},{"x":15.45,"y":152,"t":"1"},{"x":17.7,"y":174,"t":"2"},{"x":23.3,"y":152,"t":"1"},{"x":28.05,"y":154,"t":"2"},{"x":29.9,"y":168,"t":"3,4"},{"x":32.3,"y":145,"t":"3,4"},{"x":34.7,"y":171,"t":"2"},{"x":46.85,"y":155,"t":"2"},{"x":50.8,"y":155,"t":"2"},
{"x":8.93,"y":92,"t":"1"},{"x":15.4,"y":81,"t":"1"},{"x":18.0,"y":107,"t":"2"},{"x":23.1,"y":81,"t":"1"},{"x":27.8,"y":84,"t":"2"},{"x":29.5,"y":82,"t":"3,4"},{"x":32.5,"y":83,"t":"3,4"},{"x":34.7,"y":103,"t":"2"},{"x":46.85,"y":91,"t":"2"},{"x":50.7,"y":90,"t":"2"},
{"x":9.13,"y":28,"t":"1"},{"x":15.3,"y":15,"t":"1"},{"x":18.1,"y":43,"t":"2"},{"x":23.2,"y":13,"t":"1"},{"x":27.6,"y":22,"t":"2"},{"x":29.5,"y":18,"t":"3,4"},{"x":32.1,"y":18,"t":"3,4"},{"x":34.3,"y":40,"t":"2"},{"x":46.9,"y":37,"t":"2"},{"x":50.0,"y":20,"t":"2"}
],
"nm": [
{"x":64.4,"y":421,"t":"Αναφορά"},{"x":64.4,"y":360,"t":"Πτολ.30%"},{"x":64.4,"y":290,"t":"Πτολ.20%"},{"x":64.4,"y":219,"t":"Πτολ.10%"},{"x":64.4,"y":162,"t":"Μεγ.30%"},{"x":64.4,"y":99,"t":"Μεγ.20%"},{"x":64.4,"y":35,"t":"Μεγ.10%"}
],
"lg": [
{"x":45.6,"y":509,"t":"1:Εντριγκίτης"},{"x":56.2,"y":509,"t":"3:Βελίτης"},{"x":45.6,"y":484,"t":"2:Πορτλαντίτης"},{"x":56.2,"y":484,"t":"4:Αλίτης"}
]
},
"encoding": {
"x": {"field": "x", "type": "quantitative", "scale": {"domain": [5, 65], "nice": false, "zero": false},
 "axis": {"values": [5,10,15,20,25,30,35,40,45,50,55,60,65], "grid": false, "domainColor": "#000", "domainWidth": 1.5, "tickColor": "#000", "tickSize": 7, "tickWidth": 1.2,
  "labelFont": "Liberation Serif", "labelFontSize": 24, "labelColor": "#000", "labelPadding": 13, "labelFlush": false, "labelOverlap": false,
  "title": "Γωνία 2θ", "titleFont": "Liberation Serif", "titleFontSize": 22, "titleFontWeight": "bold", "titleColor": "#000", "titleX": 598, "titleY": 46, "titleBaseline": "top", "titleAnchor": "middle"}},
"y": {"field": "y", "type": "quantitative", "scale": {"domain": [0, 527], "nice": false, "zero": false}, "axis": null}
},
"layer": [
{"data": {"name": "tr"}, "mark": {"type": "line", "color": "#111", "strokeWidth": 2.2, "strokeJoin": "round"}, "encoding": {"detail": {"field": "s", "type": "nominal"}}},
{"data": {"name": "pk"}, "mark": {"type": "text", "font": "Liberation Sans", "fontSize": 23, "color": "#1a1a1a", "baseline": "middle", "align": "center"}, "encoding": {"text": {"field": "t"}}},
{"data": {"name": "nm"}, "mark": {"type": "text", "font": "Liberation Serif", "fontSize": 22, "color": "#333", "baseline": "middle", "align": "right"}, "encoding": {"text": {"field": "t"}}},
{"data": {"name": "lg"}, "mark": {"type": "text", "font": "Liberation Serif", "fontSize": 22, "color": "#222", "baseline": "middle", "align": "left"}, "encoding": {"text": {"field": "t"}}}
]
}
